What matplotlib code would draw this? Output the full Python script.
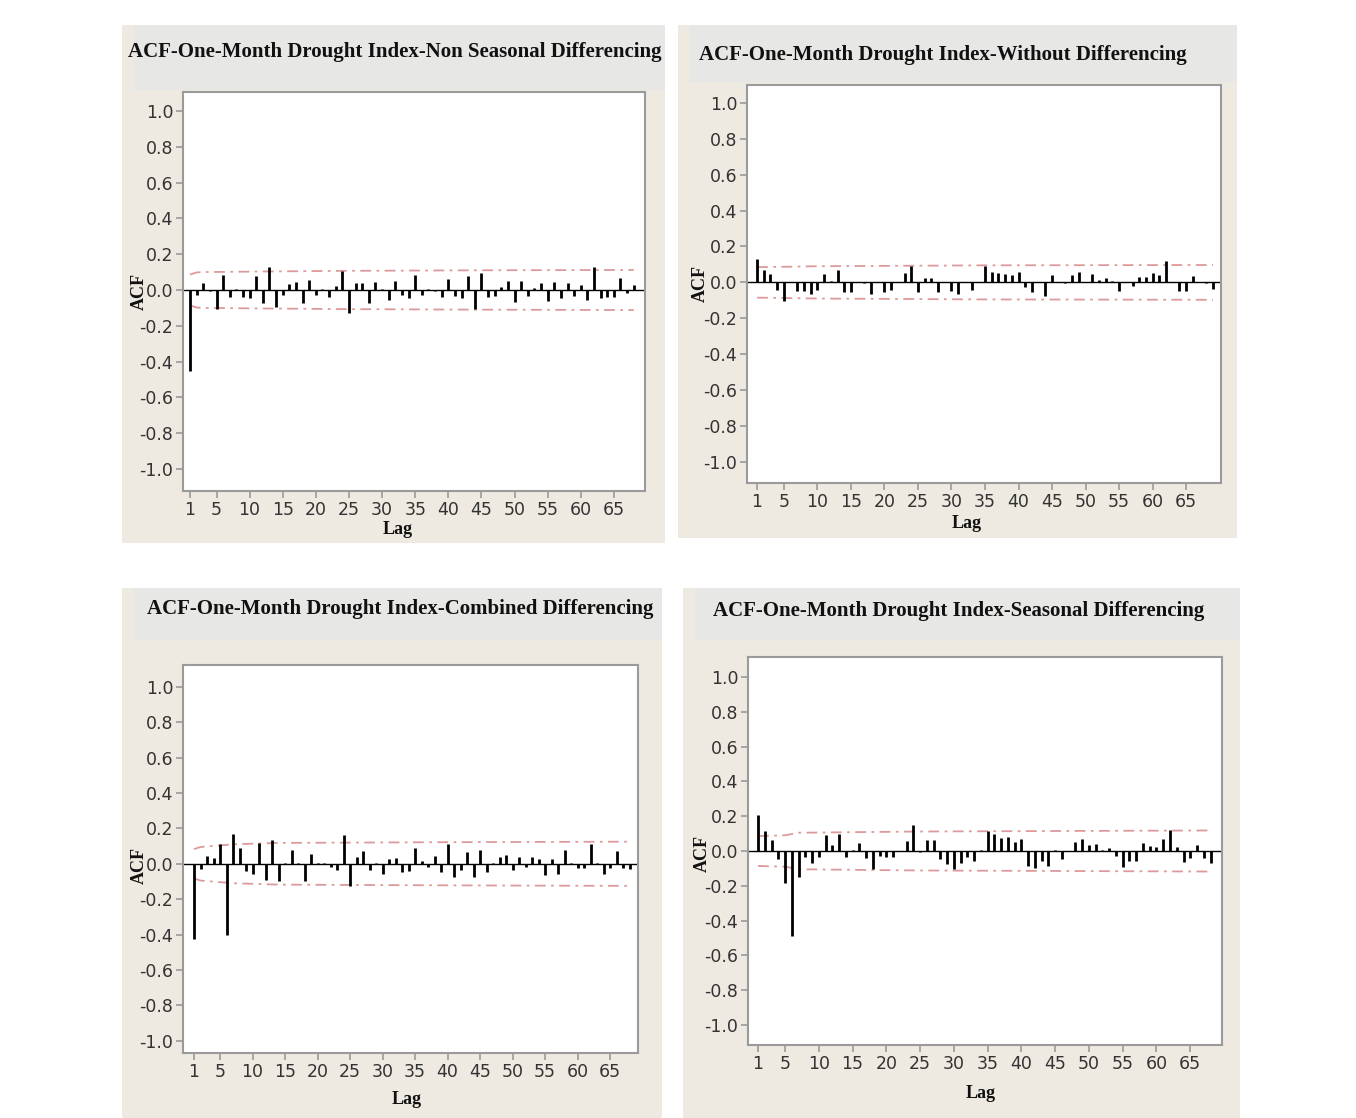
import numpy as np
import matplotlib
matplotlib.use("Agg")
import matplotlib.pyplot as plt
from matplotlib.patches import Rectangle

W, H = 1356, 1118

titles = [
    "ACF-One-Month Drought Index-Non Seasonal Differencing",
    "ACF-One-Month Drought Index-Without Differencing",
    "ACF-One-Month Drought Index-Combined Differencing",
    "ACF-One-Month Drought Index-Seasonal Differencing",
]

# ACF values (lag 1 onwards)
acf_nonseasonal = [
    -0.45, -0.03, 0.04, -0.005, -0.107, 0.086, -0.037, 0.005, -0.037, -0.045,
    0.08, -0.075, 0.13, -0.093, -0.026, 0.034, 0.043, -0.07, 0.056, -0.03,
    0.003, -0.037, 0.02, 0.108, -0.13, 0.037, 0.037, -0.07, 0.047, 0.003,
    -0.054, 0.049, -0.03, -0.047, 0.086, -0.026, 0.003, -0.003, -0.041, 0.062,
    -0.036, -0.047, 0.08, -0.107, 0.093, -0.037, -0.032, 0.015, 0.052, -0.065,
    0.052, -0.032, 0.009, 0.037, -0.06, 0.043, -0.047, 0.037, -0.032, 0.028,
    -0.056, 0.131, -0.047, -0.037, -0.041, 0.065, -0.019, 0.028,
]
acf_without = [
    0.131, 0.069, 0.045, -0.043, -0.105, 0.003, -0.049, -0.049, -0.067, -0.043,
    0.045, 0.005, 0.069, -0.056, -0.052, 0.003, -0.003, -0.065, 0.002, -0.052,
    -0.043, 0.004, 0.05, 0.093, -0.052, 0.026, 0.022, -0.052, 0.002, -0.049,
    -0.067, 0.002, -0.043, 0.003, 0.09, 0.058, 0.052, 0.047, 0.043, 0.058,
    -0.028, -0.056, 0.002, -0.078, 0.043, 0.002, -0.003, 0.043, 0.058, 0.002,
    0.047, 0.015, 0.024, 0.005, -0.047, 0.002, -0.022, 0.028, 0.028, 0.052,
    0.043, 0.121, 0.002, -0.05, -0.05, 0.034, 0.002, -0.002, -0.037,
]
acf_combined = [
    -0.427, -0.032, 0.043, 0.034, 0.113, -0.40, 0.166, 0.087, -0.041, -0.06,
    0.119, -0.089, 0.134, -0.098, 0.003, 0.077, 0.002, -0.098, 0.056, 0.002,
    0.004, -0.019, -0.038, 0.16, -0.126, 0.04, 0.072, -0.038, 0.003, -0.056,
    0.025, 0.034, -0.047, -0.041, 0.089, 0.015, -0.019, 0.043, -0.047, 0.113,
    -0.075, -0.038, 0.066, -0.075, 0.079, -0.047, 0.003, 0.038, 0.051, -0.038,
    0.041, -0.019, 0.041, 0.028, -0.066, 0.028, -0.056, 0.079, 0.002, -0.025,
    -0.025, 0.109, 0.002, -0.056, -0.025, 0.075, -0.025, -0.028,
]
acf_seasonal = [
    0.205, 0.115, 0.061, -0.044, -0.182, -0.49, -0.149, -0.034, -0.067, -0.034,
    0.09, 0.033, 0.10, -0.033, 0.003, 0.048, -0.042, -0.105, -0.029, -0.033,
    -0.033, 0.002, 0.057, 0.148, -0.005, 0.061, 0.061, -0.048, -0.077, -0.105,
    -0.067, -0.033, -0.057, 0.004, 0.115, 0.10, 0.077, 0.082, 0.05, 0.069,
    -0.084, -0.096, -0.057, -0.084, 0.003, -0.048, 0.002, 0.05, 0.069, 0.034,
    0.038, 0.003, 0.019, -0.027, -0.09, -0.057, -0.057, 0.048, 0.031, 0.025,
    0.069, 0.121, 0.021, -0.061, -0.038, 0.034, -0.042, -0.071,
]
acf_series = [acf_nonseasonal, acf_without, acf_combined, acf_seasonal]

# 5% significance limits (lag, limit)
limit_lags = [
    [1, 2, 3, 11, 25, 45, 68],
    [1, 5, 10, 35, 69],
    [1, 2, 7, 14, 40, 68],
    [1, 5, 7, 25, 68],
]
limit_vals = [
    [0.086, 0.098, 0.100, 0.103, 0.107, 0.110, 0.112],
    [0.085, 0.087, 0.090, 0.095, 0.097],
    [0.083, 0.095, 0.110, 0.118, 0.122, 0.125],
    [0.086, 0.090, 0.105, 0.112, 0.118],
]

xticks = [1, 5, 10, 15, 20, 25, 30, 35, 40, 45, 50, 55, 60, 65]
yticks = [1.0, 0.8, 0.6, 0.4, 0.2, 0.0, -0.2, -0.4, -0.6, -0.8, -1.0]

# layout in pixels: panel box, title band, plot box, axis limits, text spots
panels = [
    dict(bg=(122, 25, 665, 543), band=(133, 25, 665, 90), box=(183, 92, 645, 491),
         xlim=(-0.06, 69.7), ylim=(-1.123, 1.106), title=(395, 52), acf=(139, 291), lag=(398, 530)),
    dict(bg=(678, 25, 1237, 538), band=(690, 25, 1237, 82), box=(747, 85, 1221, 483),
         xlim=(-0.5, 70.2), ylim=(-1.118, 1.10), title=(943, 55), acf=(700, 284), lag=(967, 524)),
    dict(bg=(122, 588, 662, 1118), band=(133, 588, 662, 640), box=(183, 665, 638, 1053),
         xlim=(-0.7, 69.3), ylim=(-1.07, 1.124), title=(400, 609), acf=(139, 866), lag=(407, 1100)),
    dict(bg=(683, 588, 1240, 1118), band=(695, 588, 1240, 640), box=(748, 657, 1222, 1045),
         xlim=(-0.48, 69.7), ylim=(-1.115, 1.115), title=(959, 611), acf=(702, 853), lag=(981, 1093)),
]

beige = "#eeeae1"
band = "#e7e7e6"
limit_color = "#dc9a9a"
frame = "#9a9a9a"
serif = ["Liberation Serif", "DejaVu Serif"]
narrow = ["Liberation Sans Narrow", "DejaVu Sans"]

fig = plt.figure(figsize=(W / 100, H / 100), dpi=100)
fig.patch.set_facecolor("white")


def fx(px):
    return px / W


def fy(py):
    return 1 - py / H


for p, title, acf, llag, lval in zip(panels, titles, acf_series, limit_lags, limit_vals):
    x0, y0, x1, y1 = p["bg"]
    fig.patches.append(Rectangle((fx(x0), fy(y1)), fx(x1 - x0), (y1 - y0) / H,
                                 transform=fig.transFigure, facecolor=beige, edgecolor="none", zorder=-2))
    x0, y0, x1, y1 = p["band"]
    fig.patches.append(Rectangle((fx(x0), fy(y1)), fx(x1 - x0), (y1 - y0) / H,
                                 transform=fig.transFigure, facecolor=band, edgecolor="none", zorder=-1))

    bx0, by0, bx1, by1 = p["box"]
    ax = fig.add_axes([fx(bx0), fy(by1), fx(bx1 - bx0), (by1 - by0) / H])
    ax.set_zorder(1)
    ax.set_facecolor("white")

    lags = np.arange(1, len(acf) + 1)
    ax.axhline(0, color="black", lw=1.0, zorder=2)
    ax.vlines(lags, 0, acf, color="black", lw=2.0, zorder=3)
    ax.plot(llag, lval, color=limit_color, lw=1.3, ls=(0, (6, 3, 1.5, 3)), zorder=1)
    ax.plot(llag, [-v for v in lval], color=limit_color, lw=1.3, ls=(0, (6, 3, 1.5, 3)), zorder=1)

    ax.set_xlim(*p["xlim"])
    ax.set_ylim(*p["ylim"])
    ax.set_xticks(xticks)
    ax.set_yticks(yticks)
    ax.set_yticklabels([f"{v:.1f}" for v in yticks])
    for s in ax.spines.values():
        s.set_color(frame)
        s.set_linewidth(1.5)
    ax.tick_params(axis="both", colors=frame, length=5, width=1.2, labelcolor="#333333", pad=2)
    for lab in ax.get_xticklabels() + ax.get_yticklabels():
        lab.set_family(narrow)
        lab.set_fontsize(12.5)

    tx, ty = p["title"]
    fig.text(fx(tx), fy(ty), title, ha="center", va="center", family=serif,
             fontweight="bold", fontsize=15, color="#111111")
    axx, axy = p["acf"]
    fig.text(fx(axx), fy(axy), "ACF", ha="center", va="center", rotation=90, family=serif,
             fontweight="bold", fontsize=13, color="#111111")
    lx, ly = p["lag"]
    fig.text(fx(lx), fy(ly), "Lag", ha="center", va="center", family=serif,
             fontweight="bold", fontsize=13, color="#111111")

fig.savefig("out.png", dpi=100, facecolor="white")
